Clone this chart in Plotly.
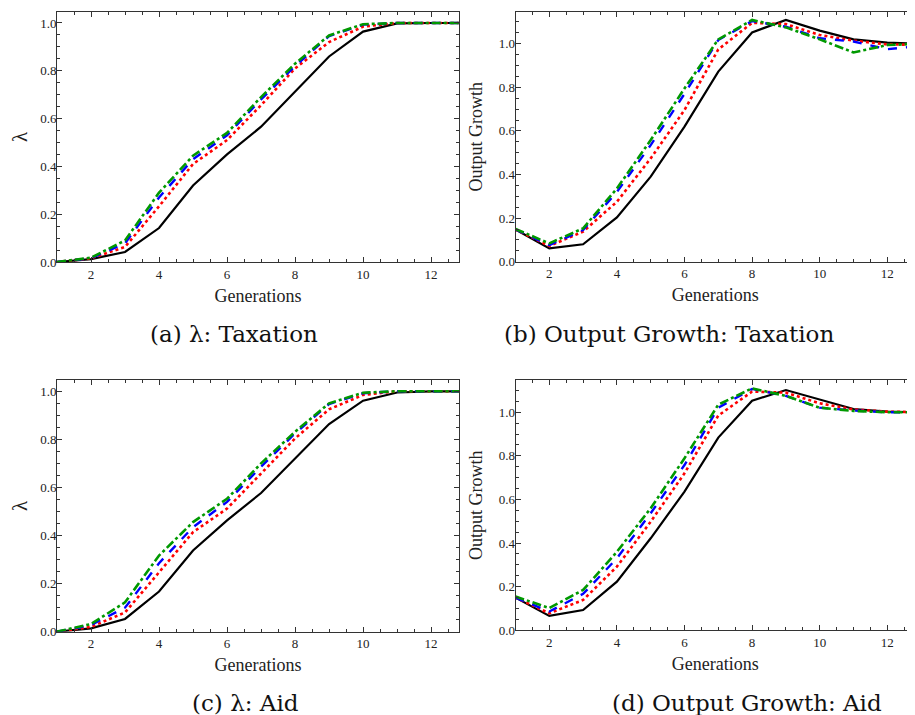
import plotly.graph_objects as go

generations = list(range(1, 14))

# (a) lambda: Taxation
lam_tax_black = [0.0, 0.012, 0.042, 0.142, 0.32, 0.45, 0.566, 0.712, 0.86, 0.964, 0.998, 1.0, 1.0]
lam_tax_red   = [0.0, 0.015, 0.063, 0.233, 0.41, 0.51, 0.656, 0.81, 0.92, 0.985, 1.0, 1.0, 1.0]
lam_tax_blue  = [0.0, 0.016, 0.078, 0.27, 0.43, 0.53, 0.68, 0.82, 0.945, 0.993, 1.0, 1.0, 1.0]
lam_tax_green = [0.0, 0.018, 0.09, 0.29, 0.445, 0.54, 0.69, 0.83, 0.948, 0.995, 1.0, 1.0, 1.0]

# (b) Output growth: Taxation
out_tax_black = [0.148, 0.061, 0.08, 0.203, 0.39, 0.62, 0.872, 1.052, 1.109, 1.06, 1.02, 1.005, 1.0]
out_tax_red   = [0.148, 0.072, 0.138, 0.275, 0.474, 0.696, 0.974, 1.096, 1.09, 1.04, 1.014, 0.997, 0.995]
out_tax_blue  = [0.148, 0.076, 0.145, 0.32, 0.535, 0.77, 1.017, 1.104, 1.078, 1.025, 1.01, 0.975, 0.99]
out_tax_green = [0.15, 0.084, 0.153, 0.336, 0.558, 0.795, 1.02, 1.109, 1.075, 1.02, 0.96, 0.994, 1.0]

# (c) lambda: Aid
lam_aid_black = [0.0, 0.014, 0.053, 0.167, 0.338, 0.463, 0.577, 0.72, 0.864, 0.961, 0.995, 1.0, 1.0]
lam_aid_red   = [0.0, 0.02, 0.08, 0.247, 0.414, 0.512, 0.658, 0.804, 0.925, 0.985, 1.0, 1.0, 1.0]
lam_aid_blue  = [0.0, 0.028, 0.1, 0.285, 0.435, 0.54, 0.686, 0.825, 0.947, 0.992, 1.0, 1.0, 1.0]
lam_aid_green = [0.0, 0.032, 0.122, 0.317, 0.456, 0.553, 0.7, 0.832, 0.95, 0.994, 1.0, 1.0, 1.0]

# (d) Output growth: Aid
out_aid_black = [0.15, 0.066, 0.093, 0.223, 0.422, 0.636, 0.884, 1.053, 1.102, 1.06, 1.015, 1.003, 1.0]
out_aid_red   = [0.15, 0.078, 0.139, 0.292, 0.498, 0.72, 0.985, 1.095, 1.09, 1.041, 1.013, 1.003, 1.0]
out_aid_blue  = [0.15, 0.086, 0.167, 0.33, 0.537, 0.758, 1.021, 1.107, 1.075, 1.021, 1.008, 1.0, 1.0]
out_aid_green = [0.155, 0.102, 0.185, 0.36, 0.56, 0.789, 1.035, 1.11, 1.075, 1.021, 1.006, 1.0, 1.0]

x_ticks = [2, 4, 6, 8, 10, 12]
y_ticks = [0.0, 0.2, 0.4, 0.6, 0.8, 1.0]
y_tick_labels = ["0.0", "0.2", "0.4", "0.6", "0.8", "1.0"]

captions = ["(a) λ: Taxation", "(b) Output Growth: Taxation", "(c) λ: Aid", "(d) Output Growth: Aid"]
y_titles = ["λ", "Output Growth", "λ", "Output Growth"]

panels = [
    (lam_tax_black, lam_tax_red, lam_tax_blue, lam_tax_green),
    (out_tax_black, out_tax_red, out_tax_blue, out_tax_green),
    (lam_aid_black, lam_aid_red, lam_aid_blue, lam_aid_green),
    (out_aid_black, out_aid_red, out_aid_blue, out_aid_green),
]

PAGE_OFF = 8  # default body margin of the html page
W, H = 915 - PAGE_OFF, 715 - PAGE_OFF


def px_x(p):
    return (p - PAGE_OFF) / W


def px_y(p):
    return 1 - (p - PAGE_OFF) / H


# pixel boxes in window coordinates: left, right, top, bottom
boxes = [
    (57, 459, 12, 262),
    (515.5, 915, 11.7, 261.7),
    (57, 459, 380, 631.7),
    (515.5, 915, 380, 630.3),
]
y_ranges = [[0, 1.046], [0, 1.147], [0, 1.047], [0, 1.148]]
title_standoffs = [14, 11, 14, 11]
title_sizes = [21, 18, 21, 18]

styles = [
    dict(color="black", dash="solid", width=2.2),
    dict(color="#ff0000", dash="dot", width=2.6),
    dict(color="#0000ff", dash="dash", width=2.4),
    dict(color="#009900", dash="dashdot", width=2.6),
]

fig = go.Figure()
tick_font = dict(family="Liberation Serif", size=13, color="#222")
title_font = dict(family="Liberation Serif", size=18, color="#222")

for i, (series, box, yr) in enumerate(zip(panels, boxes, y_ranges)):
    k = "" if i == 0 else str(i + 1)
    for s, st in zip(series, styles):
        fig.add_trace(go.Scatter(x=generations, y=s, mode="lines", line=st,
                                 xaxis="x" + k, yaxis="y" + k, showlegend=False,
                                 hoverinfo="skip"))
    l, r, t, b = box
    xa = dict(domain=[px_x(l), min(px_x(r), 1.0)], range=[1, 12.82], anchor="y" + k, automargin=False,
              tickvals=x_ticks, ticks="inside", ticklen=5, tickwidth=1, tickcolor="#333",
              minor=dict(dtick=0.5, tick0=0, ticks="inside", ticklen=3, tickcolor="#333", showgrid=False),
              showline=True, linecolor="#333", linewidth=1, mirror="ticks",
              showgrid=False, zeroline=False, tickfont=tick_font,
              title=dict(text="Generations", font=title_font, standoff=8))
    ya = dict(domain=[px_y(b), px_y(t)], range=yr, anchor="x" + k, automargin=False,
              tickvals=y_ticks, ticktext=y_tick_labels, ticks="inside", ticklen=5, tickwidth=1,
              tickcolor="#333", ticklabelstandoff=-3,
              minor=dict(dtick=0.05, tick0=0, ticks="inside", ticklen=3, tickcolor="#333", showgrid=False),
              showline=True, linecolor="#333", linewidth=1, mirror="ticks",
              showgrid=False, zeroline=False, tickfont=tick_font,
              title=dict(text=y_titles[i], font=dict(family="Liberation Serif", size=title_sizes[i], color="#222"),
                         standoff=title_standoffs[i]))
    fig.update_layout(**{"xaxis" + k: xa, "yaxis" + k: ya})

cap_pos = [(148, 334), (502, 334), (190, 703), (610, 703)]
for text, (cx, cy) in zip(captions, cap_pos):
    fig.add_annotation(text=text, x=px_x(cx), y=px_y(cy), xref="paper", yref="paper",
                       xanchor="left", yanchor="middle", showarrow=False,
                       font=dict(family="DejaVu Serif", size=23, color="#111"))

fig.update_layout(width=W, height=H, margin=dict(l=0, r=0, t=0, b=0),
                  paper_bgcolor="white", plot_bgcolor="white")

fig.write_html("out.html")
